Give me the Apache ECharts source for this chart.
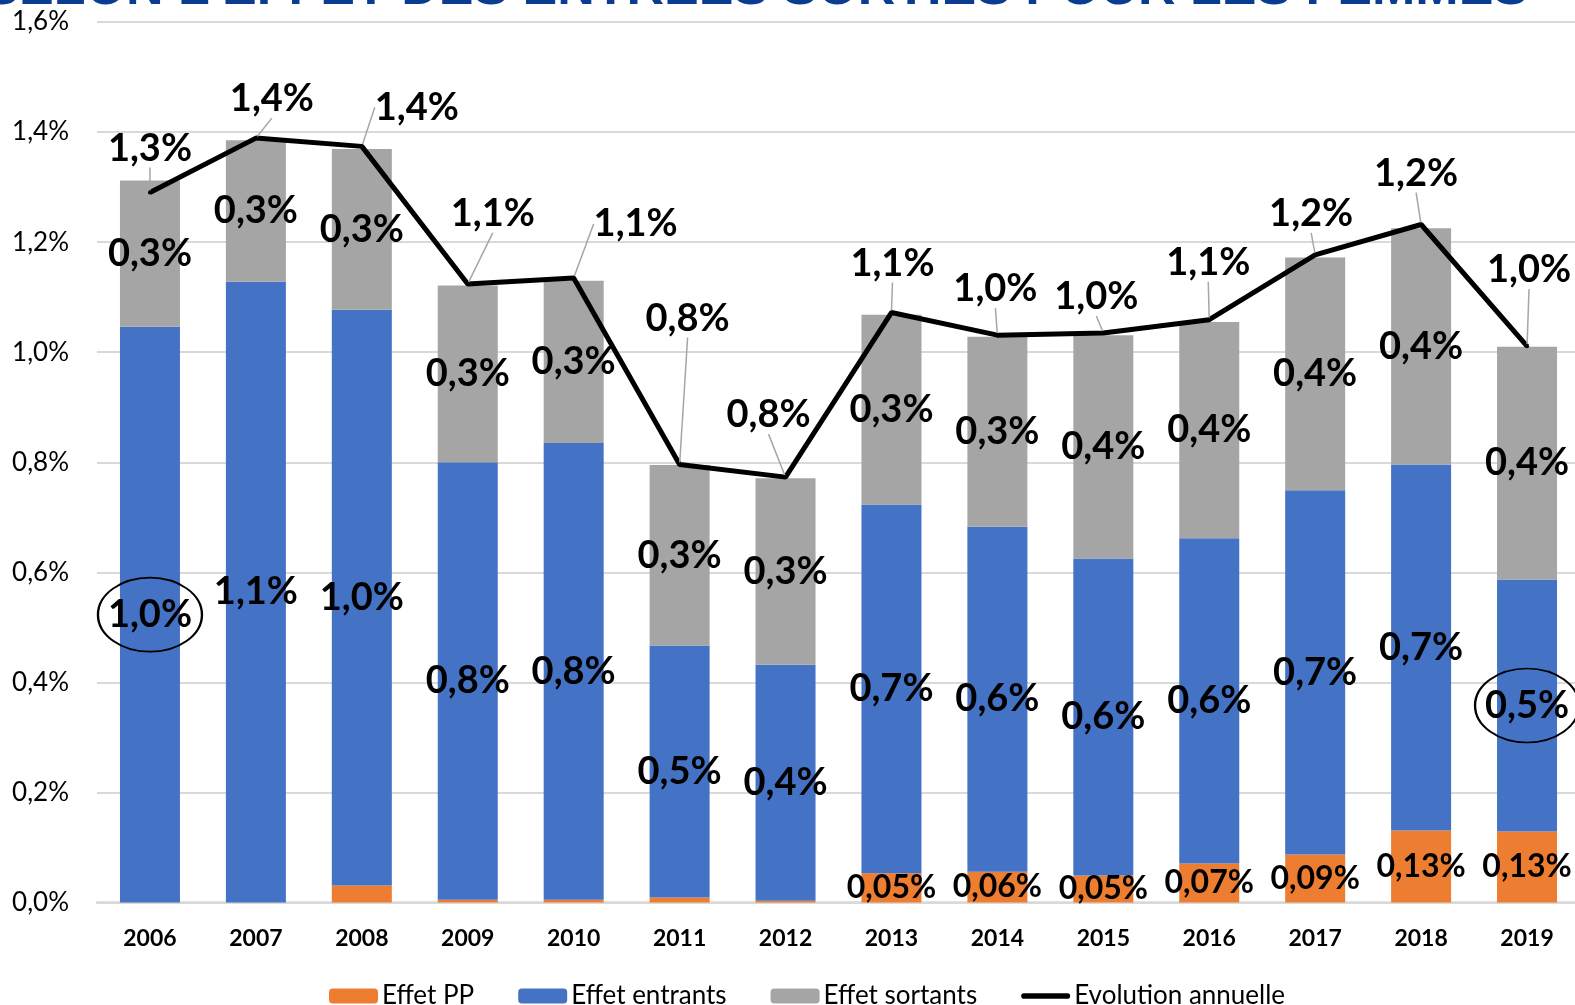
<!DOCTYPE html>
<html>
<head>
<meta charset="utf-8">
<script src="https://cdn.jsdelivr.net/npm/echarts@6/dist/echarts.min.js"></script>
<style>
html,body{margin:0;padding:0;background:#fff;}
#chart{width:1575px;height:1005px;}
</style>
</head>
<body>
<div id="chart"></div>
<script>
// ---- data (values in %) ----
const years = ['2006','2007','2008','2009','2010','2011','2012','2013','2014','2015','2016','2017','2018','2019'];
const effetPP        = [0, 0, 0.031, 0.005, 0.005, 0.009, 0.003, 0.053, 0.056, 0.049, 0.071, 0.087, 0.131, 0.129];
const effetEntrants  = [1.046, 1.128, 1.046, 0.795, 0.830, 0.458, 0.429, 0.670, 0.627, 0.576, 0.591, 0.662, 0.665, 0.458];
const effetSortants  = [0.266, 0.257, 0.292, 0.321, 0.295, 0.328, 0.339, 0.345, 0.345, 0.406, 0.393, 0.423, 0.429, 0.423];
const evolution      = [1.290, 1.389, 1.374, 1.124, 1.135, 0.796, 0.773, 1.072, 1.031, 1.035, 1.059, 1.177, 1.232, 1.011];
const yTicks = [0, 0.2, 0.4, 0.6, 0.8, 1.0, 1.2, 1.4, 1.6];
const circledYears = [0, 13]; // entrants labels circled

// ---- label placement (layout only) ----
const lineLabelDx = [0, 16, 55, 25, 62, 8, -17, 1, -2, -7, -1, -4, -5, 2];
const lineLabelDy = [-44, -39, -39, -70, -54, -146, -62, -49, -46, -36, -57, -41, -51, -76];

const fmt1 = v => v.toFixed(1).replace('.', ',') + '%';
const fmt2 = v => v.toFixed(2).replace('.', ',') + '%';
const FONT = 'Lato, "Liberation Sans", sans-serif';

const chart = echarts.init(document.getElementById('chart'));
const barLabel = {
  show: true, position: 'inside', color: '#000',
  fontFamily: FONT, fontWeight: 'bold', fontSize: 38
};

chart.setOption({
  animation: false,
  backgroundColor: '#fff',
  graphic: [{
    type: 'text', x: 1528, y: -10.5, z: 100,
    style: {
      text: "SELON L'EFFET DES ENTRÉES SORTIES POUR LES FEMMES",
      fill: '#0A3D91', font: 'bold 52px "Liberation Sans", Arial, sans-serif',
      align: 'right', verticalAlign: 'middle'
    }
  }],
  legend: {
    data: [
      {name: 'Effet PP'},
      {name: 'Effet entrants'},
      {name: 'Effet sortants'},
      {name: 'Evolution annuelle', icon: 'path://M3,0 H49 A3,3 0 0 1 49,6 H3 A3,3 0 0 1 3,0 Z'}
    ],
    left: 324, top: 978,
    itemWidth: 49, itemHeight: 15, itemGap: 44,
    textStyle: {fontFamily: FONT, fontSize: 26, color: '#000', padding: [0,0,0,-1]}
  },
  grid: {left: 97, right: -5, top: 22, bottom: 102.5, containLabel: false, outerBoundsMode: 'none'},
  xAxis: {
    type: 'category', data: years,
    axisTick: {show: false},
    axisLine: {lineStyle: {color: '#d9d9d9', width: 2.5}},
    axisLabel: {color: '#000', fontFamily: FONT, fontWeight: 'bold', fontSize: 23, margin: 25}
  },
  yAxis: {
    type: 'value', min: yTicks[0], max: yTicks[yTicks.length-1], interval: yTicks[1]-yTicks[0],
    axisLine: {show: false}, axisTick: {show: false},
    splitLine: {lineStyle: {color: '#d9d9d9', width: 2}},
    axisLabel: {color: '#000', fontFamily: FONT, fontSize: 26, margin: 28, formatter: v => fmt1(v)}
  },
  series: [
    {
      name: 'Effet PP', type: 'bar', stack: 'tot', barWidth: 60,
      itemStyle: {color: '#ED7D31'},
      data: effetPP,
      label: Object.assign({}, barLabel, {fontSize: 32,
        formatter: p => (p.value >= 0.04 ? fmt2(p.value) : '')})
    },
    {
      name: 'Effet entrants', type: 'bar', stack: 'tot', barWidth: 60,
      itemStyle: {color: '#4472C4'},
      data: effetEntrants,
      label: Object.assign({}, barLabel, {formatter: p => fmt1(p.value)}),
      markPoint: {
        symbol: 'circle', symbolSize: [104, 74], silent: true,
        itemStyle: {color: 'rgba(0,0,0,0)', borderColor: '#000', borderWidth: 2},
        label: {show: false},
        data: circledYears.map(i => ({coord: [i, effetPP[i] + effetEntrants[i] / 2]}))
      }
    },
    {
      name: 'Effet sortants', type: 'bar', stack: 'tot', barWidth: 60,
      itemStyle: {color: '#A5A5A5'},
      data: effetSortants,
      label: Object.assign({}, barLabel, {formatter: p => fmt1(p.value)})
    },
    {
      name: 'Evolution annuelle', type: 'line', z: 5,
      data: evolution,
      symbol: 'circle', symbolSize: 4, showSymbol: true,
      lineStyle: {color: '#000', width: 5},
      itemStyle: {color: '#000'},
      label: {show: true, position: 'inside', color: '#000', fontFamily: FONT, fontWeight: 'bold', fontSize: 38,
              formatter: p => fmt1(p.value)},
      labelLine: {show: true, lineStyle: {color: '#a6a6a6', width: 1.5}},
      labelLayout: p => ({dx: lineLabelDx[p.dataIndex], dy: lineLabelDy[p.dataIndex]})
    }
  ]
});
</script>
</body>
</html>
